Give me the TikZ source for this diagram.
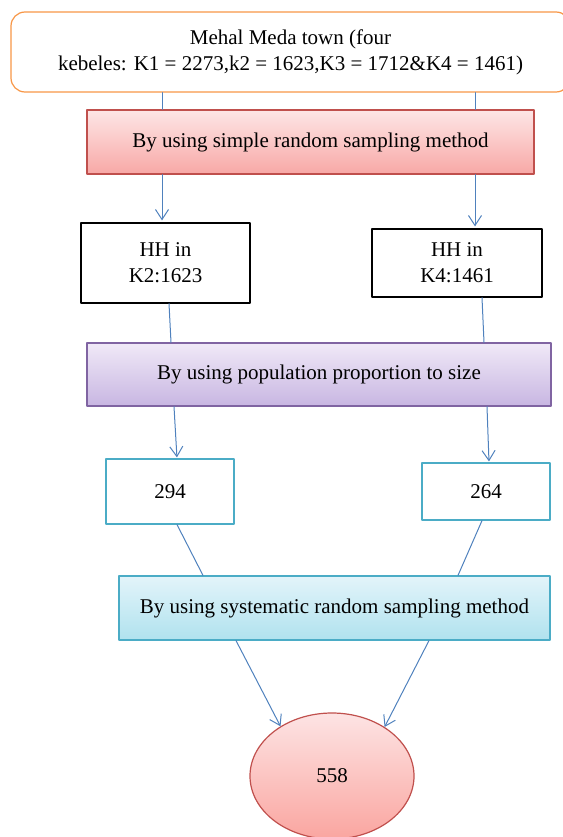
\documentclass[tikz,border=0pt]{standalone}
\usepackage{fontspec}
\setmainfont{Liberation Serif}
\usetikzlibrary{arrows.meta}
\usetikzlibrary{shapes.geometric}
\definecolor{linkblue}{RGB}{79,129,189}
\definecolor{orangeline}{RGB}{247,150,70}
\definecolor{redline}{RGB}{192,80,77}
\definecolor{purpleline}{RGB}{128,100,162}
\definecolor{cyanline}{RGB}{75,172,198}

\begin{document}
\begin{tikzpicture}[line cap=round,line join=round,x=1pt,y=-1pt,
  >={Straight Barb[length=10pt,width=13pt]},
  every node/.style={font=\fontsize{21}{26}\selectfont,align=center,inner sep=0pt},
  conn/.style={draw=linkblue,line width=1pt},
  box/.style={draw,rectangle,line width=1.2pt}]
\useasboundingbox (0,0) rectangle (562,837);
\node[box,draw=orangeline,rounded corners=14pt,minimum width=559,minimum height=80] (town) at (290.5,52) {Mehal Meda town (four\\kebeles: K1 = 2273,k2 = 1623,K3 = 1712\&K4 = 1461)};
\node[box,draw=redline,top color={rgb,255:red,253;green,230;blue,230},bottom color={rgb,255:red,248;green,168;blue,166},minimum width=447,minimum height=64] (srs) at (310.5,142) {By using simple random sampling method};
\node[box,draw=black,minimum width=169,minimum height=80] (hhtwo) at (165.5,263) {HH in\\K2:1623};
\node[box,draw=black,minimum width=170,minimum height=68] (hhfour) at (457,263) {HH in\\K4:1461};
\node[box,draw=purpleline,top color={rgb,255:red,240;green,233;blue,247},bottom color={rgb,255:red,200;green,182;blue,226},minimum width=464,minimum height=63] (pps) at (319,374.5) {By using population proportion to size};
\node[box,draw=cyanline,minimum width=128,minimum height=65] (ntwo) at (170,491.5) {294};
\node[box,draw=cyanline,minimum width=128,minimum height=57] (nfour) at (486,491.5) {264};
\node[box,draw=cyanline,top color={rgb,255:red,227;green,244;blue,250},bottom color={rgb,255:red,176;green,226;blue,238},minimum width=431,minimum height=64] (sys) at (334.5,608) {By using systematic random sampling method};
\node[ellipse,draw=redline,line width=1.2pt,top color={rgb,255:red,253;green,228;blue,228},bottom color={rgb,255:red,250;green,165;blue,160},minimum width=164,minimum height=126] (total) at (332,776) {558};
% connectors
\draw[conn] (town.south -| 162,0) -- (srs.north -| 162,0);
\draw[conn] (town.south -| 475,0) -- (srs.north -| 475,0);
\draw[conn,->,shorten >=2pt] (srs.south -| 162,0) -- (hhtwo.north -| 162,0);
\draw[conn,->,shorten >=2pt] (srs.south -| 475,0) -- (hhfour.north -| 475,0);
\draw[conn] (hhtwo.south -| 169,0) -- (pps.north -| 171,0);
\draw[conn] (hhfour.south -| 482,0) -- (pps.north -| 484,0);
\draw[conn,->,shorten >=1pt] (pps.south -| 174,0) -- (ntwo.north -| 177,0);
\draw[conn,->,shorten >=1pt] (pps.south -| 487,0) -- (nfour.north -| 489,0);
\draw[conn] (ntwo.south -| 177,0) -- (sys.north -| 203,0);
\draw[conn] (nfour.south -| 482,0) -- (sys.north -| 458,0);
\draw[conn,->] (sys.south -| 236,0) -- (total.136);
\draw[conn,->] (sys.south -| 429,0) -- (total.43);
\end{tikzpicture}
\end{document}
